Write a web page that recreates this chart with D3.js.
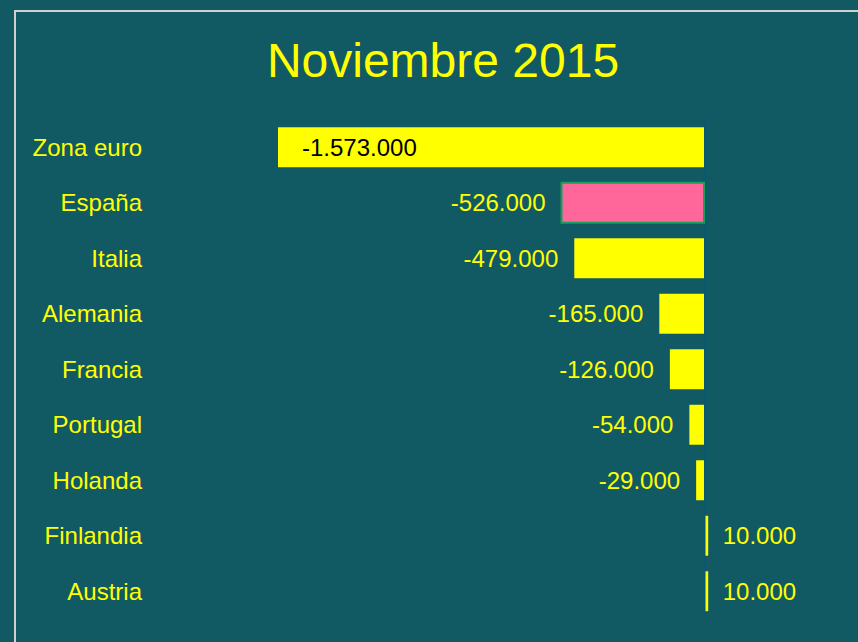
<!DOCTYPE html>
<html><head><meta charset="utf-8">
<script src="https://cdn.jsdelivr.net/npm/d3@7"></script>
<style>html,body{margin:0;padding:0;background:#115a63;}svg{display:block;}</style>
</head><body>
<svg id="c" width="858" height="642"></svg>
<script>
const categories = ["Zona euro","España","Italia","Alemania","Francia","Portugal","Holanda","Finlandia","Austria"];
const values = [-1573000,-526000,-479000,-165000,-126000,-54000,-29000,10000,10000];
const highlight = ["España"];
const title = "Noviembre 2015";

const W = 858, H = 642;
const svg = d3.select("#c");
svg.append("rect").attr("width",W).attr("height",H).attr("fill","#115a63");
// frame
svg.append("path").attr("d",`M15,${H} L15,11 L${W},11`).attr("fill","none").attr("stroke","#d0d0d0").attr("stroke-width",2);

svg.append("text").attr("x",443).attr("y",77).attr("text-anchor","middle")
  .attr("font-family","Liberation Sans, Arial, sans-serif").attr("font-size",48).attr("fill","#ffff00").text(title);

const x = d3.scaleLinear().domain([-1573000, 0]).range([278, 704]);
const y = d3.scaleBand().domain(categories).range([119.5, 619]).paddingInner(0.28).paddingOuter(0.14);

const loc = d3.formatLocale({decimal:",", thousands:".", grouping:[3], currency:["","€"], minus:"-"});
const fmt = loc.format(",d");

const data = categories.map((c,i)=>({c, v: values[i]}));

// zero line
svg.append("line").attr("x1",x(0)+0.5).attr("x2",x(0)+0.5).attr("y1",119).attr("y2",617)
  .attr("stroke","#0a5770").attr("stroke-width",1.5);

const g = svg.append("g");
g.selectAll("rect.bar").data(data).join("rect").attr("class","bar")
  .attr("x", d=> d.v<0 ? x(d.v) : x(0)+1.5)
  .attr("width", d=> Math.abs(x(d.v)-x(0)))
  .attr("y", d=> y(d.c)).attr("height", y.bandwidth())
  .attr("fill", d=> highlight.includes(d.c) ? "#ff6699" : "#ffff00")
  .attr("stroke", d=> highlight.includes(d.c) ? "#1a9e5c" : "none")
  .attr("stroke-width", 2);

// category labels
g.selectAll("text.cat").data(data).join("text").attr("class","cat")
  .attr("x",142).attr("y", d=> y(d.c)+y.bandwidth()/2).attr("dy","0.35em")
  .attr("text-anchor","end").attr("font-family","Liberation Sans, Arial, sans-serif").attr("font-size",24)
  .attr("fill","#ffff00").text(d=>d.c);

// value labels
g.selectAll("text.val").data(data).join("text").attr("class","val")
  .attr("x", (d,i)=> i===0 ? x(d.v)+24 : (d.v<0 ? x(d.v)-16 : x(d.v)+16))
  .attr("y", d=> y(d.c)+y.bandwidth()/2).attr("dy","0.35em")
  .attr("text-anchor", (d,i)=> i===0 ? "start" : (d.v<0 ? "end" : "start"))
  .attr("font-family","Liberation Sans, Arial, sans-serif").attr("font-size",24)
  .attr("fill", (d,i)=> i===0 ? "#000000" : "#ffff00").text(d=>fmt(d.v));
</script>
</body></html>
